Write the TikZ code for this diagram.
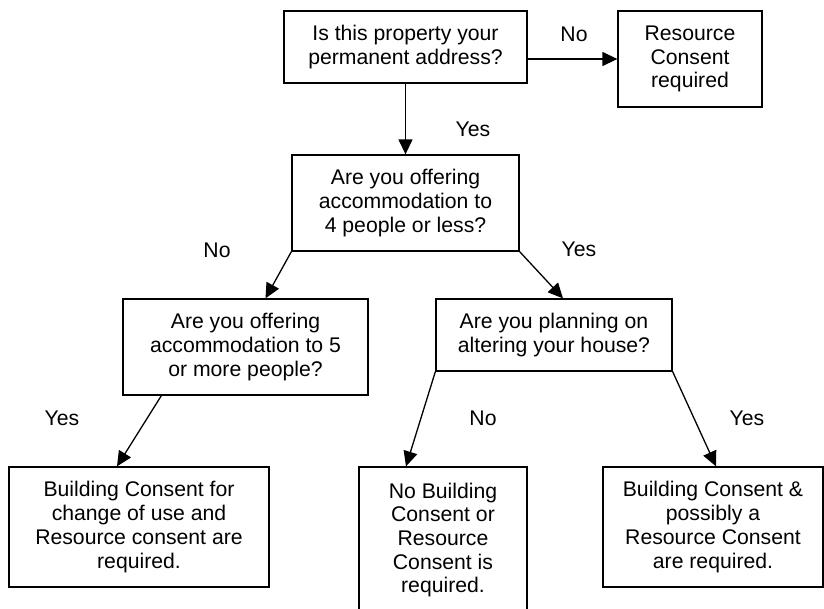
\documentclass[tikz,border=0pt]{standalone}
\usepackage{fontspec}
\setmainfont{Liberation Sans}
\usetikzlibrary{arrows.meta}

\begin{document}
\begin{tikzpicture}[x=1pt,y=1pt,yscale=-1,xscale=1,
  box/.style={draw,line width=1.3pt,inner sep=0pt,align=center,font=\fontsize{21.2}{23.7}\selectfont},
  lbl/.style={inner sep=0pt,font=\fontsize{21.2}{23.7}\selectfont},
  arr/.style={line width=1.3pt,-{Triangle[length=15pt,width=14pt]}}]
%set diagram size 824 x 608
\clip (0,0) rectangle (824,608);

%Shape: Rectangle [id:box_address]
\node (address) at (405.5,47) [box,minimum width=243,minimum height=72] {Is this property your\\permanent address?};
%Shape: Rectangle [id:box_rc]
\node (rc) at (690,59) [box,minimum width=144,minimum height=96] {Resource\\Consent\\required};
%Shape: Rectangle [id:box_four]
\node (four) at (405.5,203) [box,minimum width=227,minimum height=96] {Are you offering\\accommodation to\\4 people or less?};
%Shape: Rectangle [id:box_five]
\node (five) at (245.5,347) [box,minimum width=245,minimum height=96] {Are you offering\\accommodation to 5\\or more people?};
%Shape: Rectangle [id:box_alter]
\node (alter) at (554,335) [box,minimum width=236,minimum height=72] {Are you planning on\\altering your house?};
%Shape: Rectangle [id:box_change]
\node (change) at (139,527) [box,minimum width=260,minimum height=120] {Building Consent for\\change of use and\\Resource consent are\\required.};
%Shape: Rectangle [id:box_none]
\node (none) at (443,540) [box,minimum width=168,minimum height=146] {No Building\\Consent or\\Resource\\Consent is\\required.};
%Shape: Rectangle [id:box_both]
\node (both) at (713,527) [box,minimum width=220,minimum height=120] {Building Consent \&\\possibly a\\Resource Consent\\are required.};

%Straight Lines [id:arrows]
\draw [arr] (address.east |- rc.center) -- (rc.west);
\draw [arr] (address.south) -- (four.north);
\draw [arr] (four.south west) -- ([xshift=20pt]five.north);
\draw [arr] (four.south east) -- ([xshift=9pt]alter.north);
\draw [arr] ([xshift=39pt]five.south west) -- ([xshift=-22pt]change.north);
\draw [arr] (alter.south west) -- ([xshift=-37pt]none.north);
\draw [arr] (alter.south east) -- ([xshift=3pt]both.north);

% Text Node
\node (noRc) at (574,34) [lbl] {No};
% Text Node
\node (yesFour) at (473,129) [lbl] {Yes};
% Text Node
\node (noFive) at (217,250) [lbl] {No};
% Text Node
\node (yesAlter) at (579,249) [lbl] {Yes};
% Text Node
\node (yesChange) at (62,418) [lbl] {Yes};
% Text Node
\node (noNone) at (483,418) [lbl] {No};
% Text Node
\node (yesBoth) at (747,418) [lbl] {Yes};
\end{tikzpicture}
\end{document}
